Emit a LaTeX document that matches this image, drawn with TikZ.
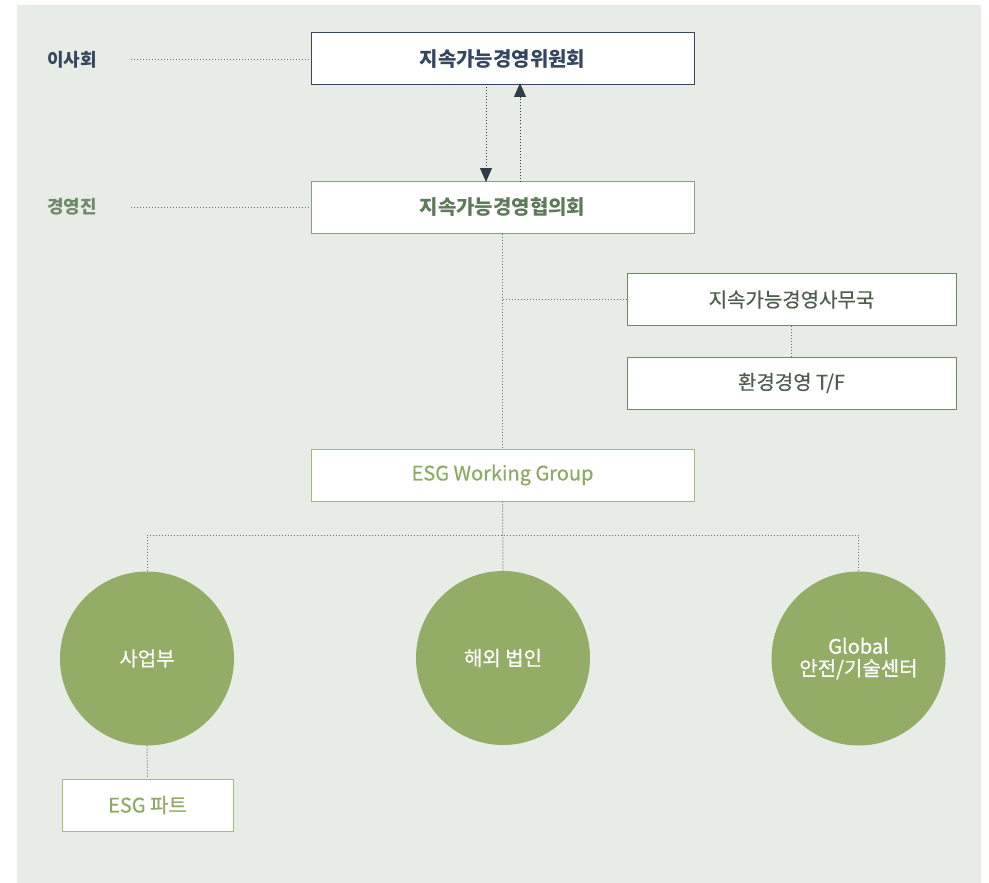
\documentclass[tikz,border=0pt]{standalone}
\usepackage{fontspec}
\setmainfont{Noto Sans CJK KR}
\newfontfamily\medfont{Noto Sans CJK KR}[FakeBold=0.5]
\usetikzlibrary{arrows.meta,calc}
\definecolor{panel}{HTML}{E7ECE6}
\definecolor{navy}{HTML}{34475F}
\definecolor{gdark}{HTML}{5F7A5A}
\definecolor{glabel}{HTML}{6F8A6A}
\definecolor{gborder}{HTML}{8A9E85}
\definecolor{gbox}{HTML}{6F8668}
\definecolor{gtext}{HTML}{4D5F4C}
\definecolor{lborder}{HTML}{A3BB7C}
\definecolor{ltext}{HTML}{8CAB63}
\definecolor{circ}{HTML}{93AD67}
\definecolor{dotc}{HTML}{6A7277}
\definecolor{arrowc}{HTML}{2F3E46}
\tikzset{
  boxbase/.style={draw, fill=white, line width=1pt, rectangle, inner sep=0pt},
  wide/.style={boxbase, minimum width=383pt, minimum height=52pt},
  navybox/.style={wide, draw=navy, text=navy, font=\fontsize{20}{24}\selectfont\bfseries},
  councilbox/.style={wide, draw=gborder, text=gdark, font=\fontsize{20}{24}\selectfont\bfseries},
  officebox/.style={boxbase, draw=gbox, text=gtext, minimum width=329pt, minimum height=52pt, font=\medfont\fontsize{20}{24}\selectfont},
  esgbox/.style={boxbase, draw=lborder, text=ltext, font=\medfont\fontsize{20}{24}\selectfont},
  unit/.style={circle, fill=circ, text=white, minimum size=174pt, inner sep=0pt, align=center, font=\medfont\fontsize{20}{22}\selectfont},
  sidelabel/.style={anchor=west, inner sep=0pt, font=\fontsize{18}{22}\selectfont\bfseries},
  dotline/.style={draw=dotc, line width=1pt, dash pattern=on 1pt off 2pt},
  flow/.style={dotline, -{Triangle[width=12pt,length=14pt]}, arrowc},
}
\begin{document}
\begin{tikzpicture}[x=1pt,y=-1pt]
\useasboundingbox (0,0) rectangle (989,883);
\fill[white] (0,0) rectangle (989,883);
\fill[panel] (17,5) rectangle (981,883);

\node[navybox] (board) at (502.5,59) {지속가능경영위원회};
\node[councilbox] (council) at (502.5,207) {지속가능경영협의회};
\node[officebox] (office) at (791.5,299.5) {지속가능경영사무국};
\node[officebox] (tf) at (791.5,383) {환경경영 T/F};
\node[esgbox, minimum width=383pt, minimum height=52pt] (wg) at (502.5,475) {ESG Working Group};
\node[unit] (biz) at (147,658.5) {사업부};
\node[unit] (overseas) at (503,658) {해외 법인};
\node[unit] (global) at (858.5,658.5) {Global\\안전/기술센터};
\node[esgbox, minimum width=171pt, minimum height=52pt] (part) at (147.5,805) {ESG 파트};

\node[sidelabel, text=navy] (lboard) at (47,60) {이사회};
\node[sidelabel, text=glabel] (lmgmt) at (47,207) {경영진};
\coordinate (d1) at (131,60);
\coordinate (d2) at (131,207);
\coordinate (bus) at (503,535);

\draw[dotline] (d1) -- (d1 -| board.west);
\draw[dotline] (d2) -- (d2 -| council.west);

\draw[flow] ([xshift=-16.5pt,yshift=1.5pt]board.south) -- ([xshift=-16.5pt,yshift=-1.5pt]council.north);
\draw[flow] ([xshift=17.5pt,yshift=-1pt]council.north) -- ([xshift=17.5pt,yshift=2.5pt]board.south);

\draw[dotline] (council.south) -- (wg.north);
\draw[dotline] (office.west -| council.south) -- (office.west);
\draw[dotline] (office.south) -- (tf.north);

\draw[dotline] (wg.south) -- (overseas.north);
\draw[dotline] (biz.north) -- (biz.north |- bus) -- (global.north |- bus) -- (global.north);
\draw[dotline] (biz.south) -- (part.north);
\end{tikzpicture}
\end{document}
